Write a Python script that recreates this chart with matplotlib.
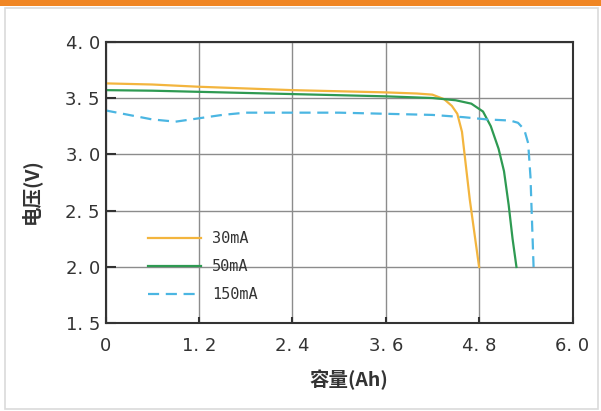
# **** imports ****
import matplotlib
matplotlib.use('Agg')
import matplotlib.pyplot as plt
from matplotlib.patches import Rectangle

# **** data ****
x30 = [0, 0.6, 1.2, 1.8, 2.4, 3.0, 3.6, 4.0, 4.2, 4.35, 4.45, 4.52, 4.58, 4.63, 4.68, 4.74, 4.8]
v30 = [3.63, 3.62, 3.60, 3.585, 3.57, 3.56, 3.55, 3.54, 3.53, 3.49, 3.43, 3.36, 3.2, 2.9, 2.6, 2.3, 2.0]

x50 = [0, 0.6, 1.2, 1.8, 2.4, 3.0, 3.6, 4.2, 4.5, 4.7, 4.85, 4.95, 5.05, 5.12, 5.18, 5.23, 5.28]
v50 = [3.57, 3.565, 3.555, 3.545, 3.535, 3.525, 3.515, 3.50, 3.48, 3.45, 3.38, 3.25, 3.05, 2.85, 2.55, 2.25, 2.0]

x150 = [0, 0.3, 0.6, 0.9, 1.2, 1.5, 1.8, 2.4, 3.0, 3.6, 4.2, 4.6, 4.9, 5.2, 5.3, 5.38, 5.43, 5.46, 5.48, 5.5]
v150 = [3.39, 3.35, 3.31, 3.29, 3.32, 3.35, 3.37, 3.37, 3.37, 3.36, 3.35, 3.33, 3.31, 3.30, 3.28, 3.22, 3.1, 2.8, 2.4, 2.0]

labels = ['30mA', '50mA', '150mA']
colors = ['#F3B53E', '#2E9A52', '#4BB6E2']

xticks = [0, 1.2, 2.4, 3.6, 4.8, 6.0]
xticklabels = ['0', '1. 2', '2. 4', '3. 6', '4. 8', '6. 0']
yticks = [1.5, 2.0, 2.5, 3.0, 3.5, 4.0]
yticklabels = ['1. 5', '2. 0', '2. 5', '3. 0', '3. 5', '4. 0']

# **** figure ****
fig = plt.figure(figsize=(6.01, 4.11), dpi=100)
fig.patch.set_facecolor('white')

# **** orange bar and light frame ****
fig.patches.append(Rectangle((0, 1 - 6 / 411), 1, 6 / 411, transform=fig.transFigure,
                             facecolor='#F08624', edgecolor='none'))
fig.patches.append(Rectangle((4.5 / 601, 2 / 411), 593 / 601, 401 / 411, transform=fig.transFigure,
                             facecolor='none', edgecolor='#DADADA', lw=1.2))

ax = fig.add_axes([105.5 / 601, 87.7 / 411, 467 / 601, 281.6 / 411])

# **** curves ****
ax.plot(x30, v30, color=colors[0], lw=1.6, label=labels[0])
ax.plot(x50, v50, color=colors[1], lw=1.6, label=labels[1])
ax.plot(x150, v150, color=colors[2], lw=1.6, ls=(0, (5, 3)), label=labels[2])

# **** axes ****
ax.set_xlim(0, 6.0)
ax.set_ylim(1.5, 4.0)
ax.set_xticks(xticks)
ax.set_xticklabels(xticklabels, family='DejaVu Sans', fontsize=13, color='#333333')
ax.set_yticks(yticks)
ax.set_yticklabels(yticklabels, family='DejaVu Sans', fontsize=13, color='#333333')
ax.tick_params(axis='y', direction='in', length=7, width=1.5, color='#333333', pad=4)
ax.tick_params(axis='x', direction='in', length=4, width=1.5, color='#333333', pad=10)
ax.grid(True, color='#8C8C8C', lw=1.0)
ax.set_axisbelow(True)
for s in ax.spines.values():
    s.set_color('#333333')
    s.set_linewidth(1.5)

ax.set_xlabel('容量(Ah)', family=['Noto Sans CJK SC', 'DejaVu Sans'], fontsize=14,
              fontweight='bold', color='#333333')
ax.xaxis.set_label_coords((349 - 105.5) / 467, -(369 - 323.3) / 281.6)
ax.set_ylabel('电压(V)', family=['Noto Sans CJK SC', 'DejaVu Sans'], fontsize=14,
              fontweight='bold', color='#333333')
ax.yaxis.set_label_coords(-(105.5 - 41) / 467, (323.3 - 191) / 281.6)

# **** legend ****
ax.legend(loc='upper left', bbox_to_anchor=(0.091, 0.328), frameon=False,
          prop={'family': 'DejaVu Sans Mono', 'size': 11}, handlelength=3.5,
          handletextpad=0.7, labelspacing=0.86, borderpad=0, borderaxespad=0,
          labelcolor='#333333')

fig.savefig('out.png', dpi=100)
